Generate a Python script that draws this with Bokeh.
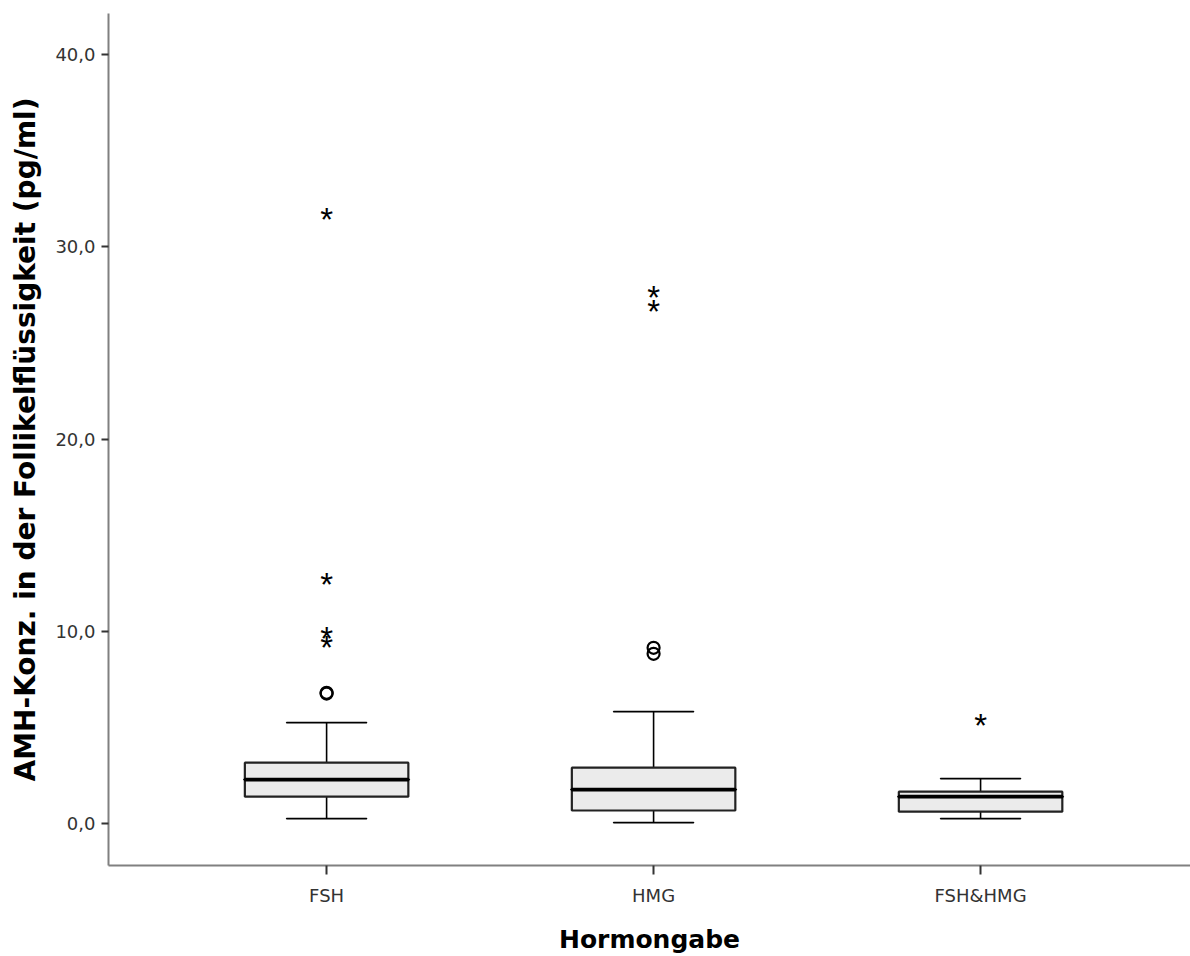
from bokeh.plotting import figure
from bokeh.models import ColumnDataSource, FixedTicker, Range1d
from bokeh.core.properties import value
from bokeh.embed import file_html
from bokeh.resources import INLINE

# ---- data ----
categories = ["FSH", "HMG", "FSH&HMG"]
positions = [1, 2, 3]
q1 = [1.40, 0.68, 0.62]
median = [2.29, 1.77, 1.40]
q3 = [3.17, 2.91, 1.66]
whisker_low = [0.26, 0.05, 0.26]
whisker_high = [5.25, 5.82, 2.34]

circle_pos = [1, 1, 2, 2]
circle_val = [6.80, 6.76, 9.14, 8.83]

star_pos = [1, 1, 1, 1, 2, 2, 3]
star_val = [31.64, 12.62, 9.82, 9.35, 27.55, 26.85, 5.30]

y_ticks = [0, 10, 20, 30, 40]
y_tick_labels = ["0,0", "10,0", "20,0", "30,0", "40,0"]

# ---- figure ----
p = figure(width=1190, height=956,
           x_range=Range1d(0.333, 3.642), y_range=Range1d(-2.18, 42.13),
           output_backend="svg", toolbar_location=None,
           min_border_left=108, min_border_right=0,
           min_border_top=13, min_border_bottom=90)
p.outline_line_color = None
p.grid.visible = False
p.background_fill_color = "white"

box_w = 0.5
cap_w = 0.245

src = ColumnDataSource(dict(x=positions, q1=q1, med=median, q3=q3,
                            lo=whisker_low, hi=whisker_high))

# whiskers
p.segment(x0="x", y0="q3", x1="x", y1="hi", source=src, line_color="black", line_width=1.6)
p.segment(x0="x", y0="lo", x1="x", y1="q1", source=src, line_color="black", line_width=1.6)
p.rect(x="x", y="hi", width=cap_w, height=0.0001, source=src, line_color="black", line_width=1.6, fill_color=None)
p.rect(x="x", y="lo", width=cap_w, height=0.0001, source=src, line_color="black", line_width=1.6, fill_color=None)

# boxes
p.vbar(x="x", width=box_w, bottom="q1", top="q3", source=src,
       fill_color="#ebebeb", line_color="#222222", line_width=2.2)
# median
p.rect(x="x", y="med", width=box_w, height=0.0001, source=src,
       line_color="black", line_width=3.8, fill_color=None)

# outliers: circles
p.scatter(x=circle_pos, y=circle_val, marker="circle", size=12,
          fill_color=None, line_color="black", line_width=2.2)

# extreme outliers: asterisks
p.text(x=star_pos, y=star_val, text=["*"] * len(star_pos),
       text_align="center", text_baseline="middle", y_offset=4,
       text_font=value("Liberation Sans"), text_font_size="33px", text_color="black")

# ---- axes ----
p.xaxis.ticker = FixedTicker(ticks=positions)
p.xaxis.major_label_overrides = {pos: c for pos, c in zip(positions, categories)}
p.yaxis.ticker = FixedTicker(ticks=y_ticks)
p.yaxis.major_label_overrides = {t: l for t, l in zip(y_ticks, y_tick_labels)}

for ax in (p.xaxis[0], p.yaxis[0]):
    ax.axis_line_color = "#808080"
    ax.axis_line_width = 2
    ax.major_tick_line_color = "#333333"
    ax.major_tick_line_width = 2
    ax.minor_tick_line_color = None
    ax.major_label_text_font = "DejaVu Sans"
    ax.major_label_text_font_size = "18px"
    ax.major_label_text_color = "#333333"
    ax.axis_label_text_font = "DejaVu Sans"
    ax.axis_label_text_font_style = "bold"
    ax.axis_label_text_color = "black"

p.xaxis.axis_label_text_font_size = "25px"
p.yaxis.axis_label_text_font_size = "28px"
p.xaxis.major_tick_in = 0
p.xaxis.major_tick_out = 9
p.yaxis.major_tick_in = 0
p.yaxis.major_tick_out = 7
p.xaxis.major_label_standoff = 10
p.yaxis.major_label_standoff = 6
p.xaxis.axis_label = "Hormongabe"
p.yaxis.axis_label = "AMH-Konz. in der Follikelflüssigkeit (pg/ml)"
p.xaxis.axis_label_standoff = 16
p.yaxis.axis_label_standoff = 10

open("out.html", "w").write(file_html(p, INLINE))
